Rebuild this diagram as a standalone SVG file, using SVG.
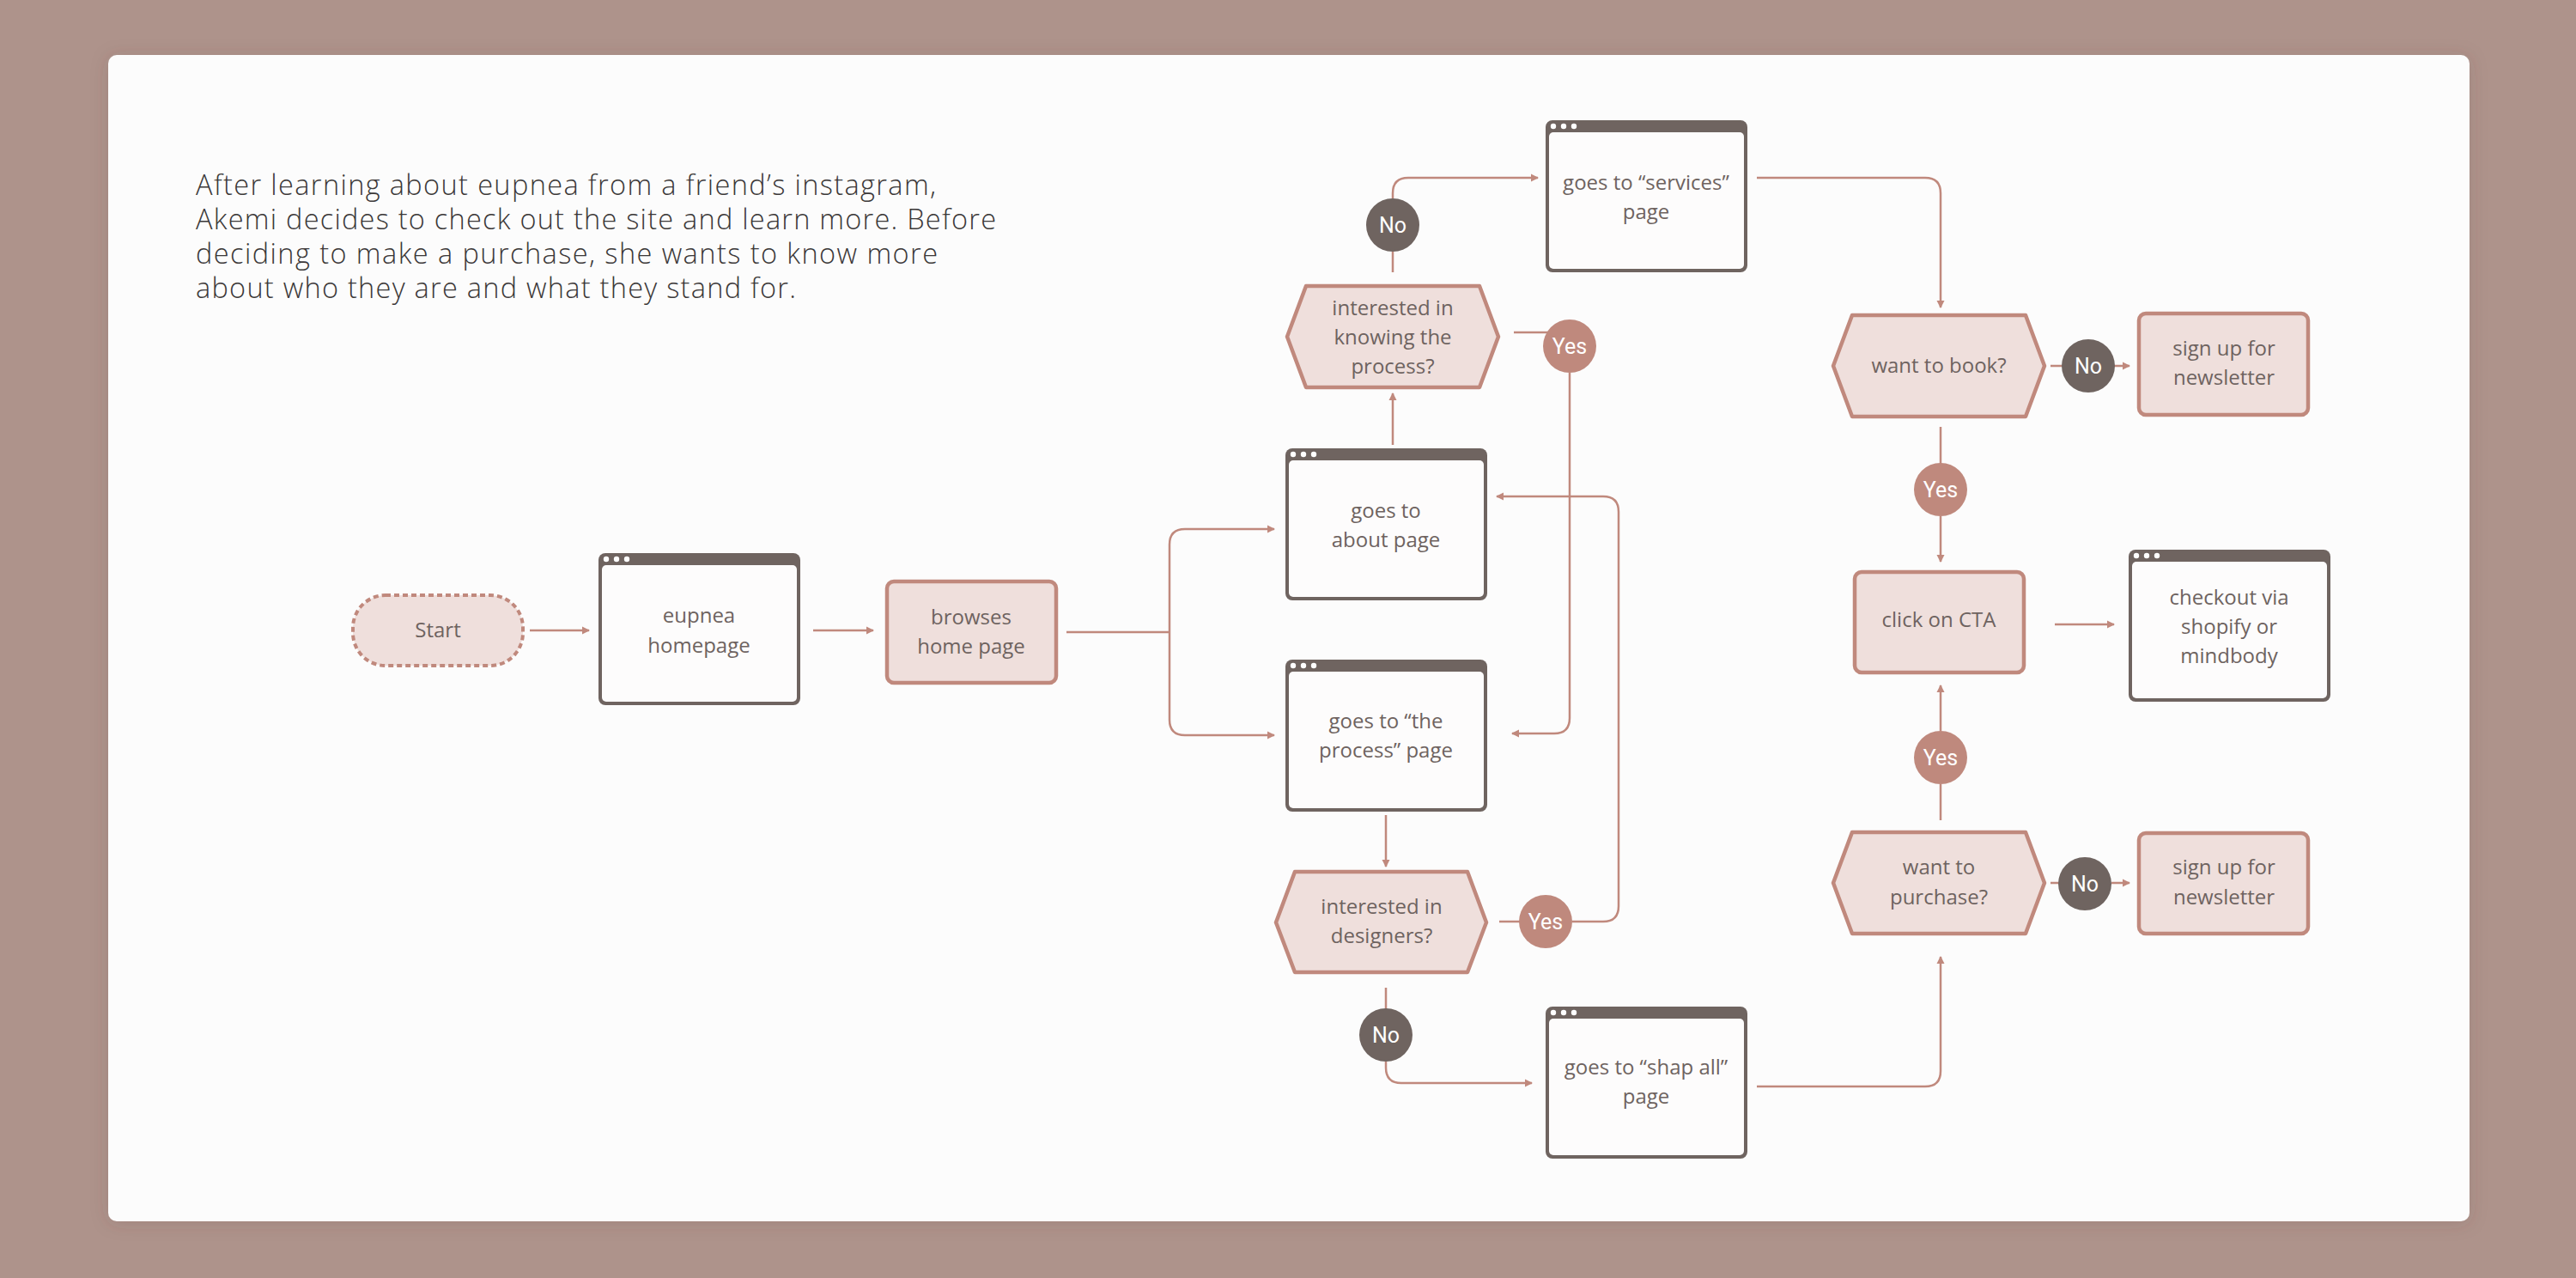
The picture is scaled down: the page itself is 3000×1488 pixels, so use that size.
<svg xmlns="http://www.w3.org/2000/svg" width="3000" height="1488" viewBox="0 0 3000 1488">
<defs>
<filter id="sh" x="-5%" y="-5%" width="110%" height="110%">
<feDropShadow dx="0" dy="2" stdDeviation="10" flood-color="#5a4038" flood-opacity="0.18"/>
</filter>
<marker id="ah" markerUnits="userSpaceOnUse" markerWidth="12" markerHeight="12" viewBox="0 0 12 12" refX="10" refY="6" orient="auto">
<path d="M2,1.5 L11,6 L2,10.5 Z" fill="#c0897d"/>
</marker>
</defs>
<style>
.bg{fill:#ae938b}
.card{fill:#fcfcfc}
.title{font-family:"Open Sans","Liberation Sans",sans-serif;font-weight:300;font-size:32.5px;fill:#3b3838}
.t{font-family:"Open Sans","Liberation Sans",sans-serif;font-size:24px;fill:#6e6360;text-anchor:middle}
.lbl{font-family:Roboto,"Liberation Sans",sans-serif;font-size:25px;fill:#ffffff;text-anchor:middle}
.frame{fill:#6f6460}
.win{fill:#fdfcfc}
.dot{fill:#ffffff}
.pink{fill:#efdfdc;stroke:#c0897d;stroke-width:4.5;stroke-linejoin:round}
.start{fill:#efdfdc;stroke:#c0897d;stroke-width:4;stroke-dasharray:6 4}
.yes{fill:#bf897d}
.no{fill:#6f6460}
.c{fill:none;stroke:#c0897d;stroke-width:2.5}
.ca{fill:none;stroke:#c0897d;stroke-width:2.5;marker-end:url(#ah)}
</style>
<rect class="bg" x="0" y="0" width="3000" height="1488"/>
<rect class="card" x="126" y="64" width="2750" height="1358" rx="10" filter="url(#sh)"/>

<g id="intro">
<text class="title" x="228" y="227" textLength="862" lengthAdjust="spacing">After learning about eupnea from a friend’s instagram,</text>
<text class="title" x="228" y="267" textLength="932" lengthAdjust="spacing">Akemi decides to check out the site and learn more. Before</text>
<text class="title" x="228" y="307" textLength="864" lengthAdjust="spacing">deciding to make a purchase, she wants to know more</text>
<text class="title" x="228" y="347" textLength="699" lengthAdjust="spacing">about who they are and what they stand for.</text>
</g>

<g id="connectors">
<path class="ca" d="M617,734 H686"/>
<path class="ca" d="M947,734 H1017"/>
<path class="c" d="M1242,736 H1362"/>
<path class="ca" d="M1362,736 V634 Q1362,616 1380,616 H1484"/>
<path class="ca" d="M1362,736 V838 Q1362,856 1380,856 H1484"/>
<path class="ca" d="M1622,518 V458"/>
<path class="c" d="M1622,317 V293"/>
<path class="ca" d="M1622,231 V225 Q1622,207 1640,207 H1791"/>
<path class="c" d="M1763,387 H1802"/>
<path class="ca" d="M1828,434 V836 Q1828,854 1810,854 H1761"/>
<path class="ca" d="M1614,949 V1009"/>
<path class="c" d="M1746,1073 H1770"/>
<path class="ca" d="M1831,1073 H1867 Q1885,1073 1885,1055 V596 Q1885,578 1867,578 H1743"/>
<path class="c" d="M1614,1150 V1175"/>
<path class="ca" d="M1614,1236 V1243 Q1614,1261 1632,1261 H1784"/>
<path class="ca" d="M2046,1265 H2242 Q2260,1265 2260,1247 V1114"/>
<path class="c" d="M2260,955 V913"/>
<path class="ca" d="M2260,851 V798"/>
<path class="c" d="M2388,1028 H2398"/>
<path class="ca" d="M2459,1028 H2480"/>
<path class="ca" d="M2046,207 H2242 Q2260,207 2260,225 V358"/>
<path class="c" d="M2388,426 H2402"/>
<path class="ca" d="M2462,426 H2480"/>
<path class="c" d="M2260,497 V540"/>
<path class="ca" d="M2260,601 V654"/>
<path class="ca" d="M2393,727 H2462"/>
</g>

<g id="start">
<rect class="start" x="411" y="693" width="198" height="82" rx="38"/>
<text class="t" x="510" y="742">Start</text>
</g>

<g id="homepage">
<rect class="frame" x="697" y="644" width="235" height="177" rx="8"/>
<rect class="win" x="701" y="658" width="227" height="159" rx="5"/>
<circle class="dot" cx="706" cy="651" r="3.2"/><circle class="dot" cx="718" cy="651" r="3.2"/><circle class="dot" cx="730" cy="651" r="3.2"/>
<text class="t" x="814" y="725">eupnea</text>
<text class="t" x="814" y="760">homepage</text>
</g>

<g id="browses">
<rect class="pink" x="1033" y="677" width="197" height="118" rx="8"/>
<text class="t" x="1131" y="727">browses</text>
<text class="t" x="1131" y="761">home page</text>
</g>

<g id="about">
<rect class="frame" x="1497" y="522" width="235" height="177" rx="8"/>
<rect class="win" x="1501" y="536" width="227" height="159" rx="5"/>
<circle class="dot" cx="1506" cy="529" r="3.2"/><circle class="dot" cx="1518" cy="529" r="3.2"/><circle class="dot" cx="1530" cy="529" r="3.2"/>
<text class="t" x="1614" y="603">goes to</text>
<text class="t" x="1614" y="637">about page</text>
</g>

<g id="process">
<rect class="frame" x="1497" y="768" width="235" height="177" rx="8"/>
<rect class="win" x="1501" y="782" width="227" height="159" rx="5"/>
<circle class="dot" cx="1506" cy="775" r="3.2"/><circle class="dot" cx="1518" cy="775" r="3.2"/><circle class="dot" cx="1530" cy="775" r="3.2"/>
<text class="t" x="1614" y="848">goes to “the</text>
<text class="t" x="1614" y="882">process” page</text>
</g>

<g id="services">
<rect class="frame" x="1800" y="140" width="235" height="177" rx="8"/>
<rect class="win" x="1804" y="154" width="227" height="159" rx="5"/>
<circle class="dot" cx="1809" cy="147" r="3.2"/><circle class="dot" cx="1821" cy="147" r="3.2"/><circle class="dot" cx="1833" cy="147" r="3.2"/>
<text class="t" x="1917" y="221">goes to “services”</text>
<text class="t" x="1917" y="255">page</text>
</g>

<g id="shapall">
<rect class="frame" x="1800" y="1172" width="235" height="177" rx="8"/>
<rect class="win" x="1804" y="1186" width="227" height="159" rx="5"/>
<circle class="dot" cx="1809" cy="1179" r="3.2"/><circle class="dot" cx="1821" cy="1179" r="3.2"/><circle class="dot" cx="1833" cy="1179" r="3.2"/>
<text class="t" x="1917" y="1251">goes to “shap all”</text>
<text class="t" x="1917" y="1285">page</text>
</g>

<g id="checkout">
<rect class="frame" x="2479" y="640" width="235" height="177" rx="8"/>
<rect class="win" x="2483" y="654" width="227" height="159" rx="5"/>
<circle class="dot" cx="2488" cy="647" r="3.2"/><circle class="dot" cx="2500" cy="647" r="3.2"/><circle class="dot" cx="2512" cy="647" r="3.2"/>
<text class="t" x="2596" y="704">checkout via</text>
<text class="t" x="2596" y="738">shopify or</text>
<text class="t" x="2596" y="772">mindbody</text>
</g>

<g id="knowing">
<path class="pink" d="M1499,392 L1521,333 H1723 L1745,392 L1723,451 H1521 Z"/>
<text class="t" x="1622" y="367">interested in</text>
<text class="t" x="1622" y="401">knowing the</text>
<text class="t" x="1622" y="435">process?</text>
</g>

<g id="designers">
<path class="pink" d="M1486,1074 L1508,1015 H1709 L1731,1074 L1709,1132 H1508 Z"/>
<text class="t" x="1609" y="1064">interested in</text>
<text class="t" x="1609" y="1098">designers?</text>
</g>

<g id="book">
<path class="pink" d="M2135,426 L2157,367 H2359 L2381,426 L2359,485 H2157 Z"/>
<text class="t" x="2258" y="434">want to book?</text>
</g>

<g id="purchase">
<path class="pink" d="M2135,1028 L2157,969 H2359 L2381,1028 L2359,1087 H2157 Z"/>
<text class="t" x="2258" y="1018">want to</text>
<text class="t" x="2258" y="1053">purchase?</text>
</g>

<g id="cta">
<rect class="pink" x="2160" y="666" width="197" height="117" rx="8"/>
<text class="t" x="2258" y="730">click on CTA</text>
</g>

<g id="signup1">
<rect class="pink" x="2491" y="365" width="197" height="118" rx="8"/>
<text class="t" x="2590" y="414">sign up for</text>
<text class="t" x="2590" y="448">newsletter</text>
</g>

<g id="signup2">
<rect class="pink" x="2491" y="970" width="197" height="117" rx="8"/>
<text class="t" x="2590" y="1018">sign up for</text>
<text class="t" x="2590" y="1053">newsletter</text>
</g>

<g id="no1"><circle class="no" cx="1622" cy="262" r="31"/><text class="lbl" x="1622" y="271">No</text></g>
<g id="yes1"><circle class="yes" cx="1828" cy="403" r="31"/><text class="lbl" x="1828" y="412">Yes</text></g>
<g id="yes2"><circle class="yes" cx="1800" cy="1073" r="31"/><text class="lbl" x="1800" y="1082">Yes</text></g>
<g id="no2"><circle class="no" cx="1614" cy="1205" r="31"/><text class="lbl" x="1614" y="1214">No</text></g>
<g id="no3"><circle class="no" cx="2432" cy="426" r="31"/><text class="lbl" x="2432" y="435">No</text></g>
<g id="yes3"><circle class="yes" cx="2260" cy="570" r="31"/><text class="lbl" x="2260" y="579">Yes</text></g>
<g id="yes4"><circle class="yes" cx="2260" cy="882" r="31"/><text class="lbl" x="2260" y="891">Yes</text></g>
<g id="no4"><circle class="no" cx="2428" cy="1029" r="31"/><text class="lbl" x="2428" y="1038">No</text></g>
</svg>
